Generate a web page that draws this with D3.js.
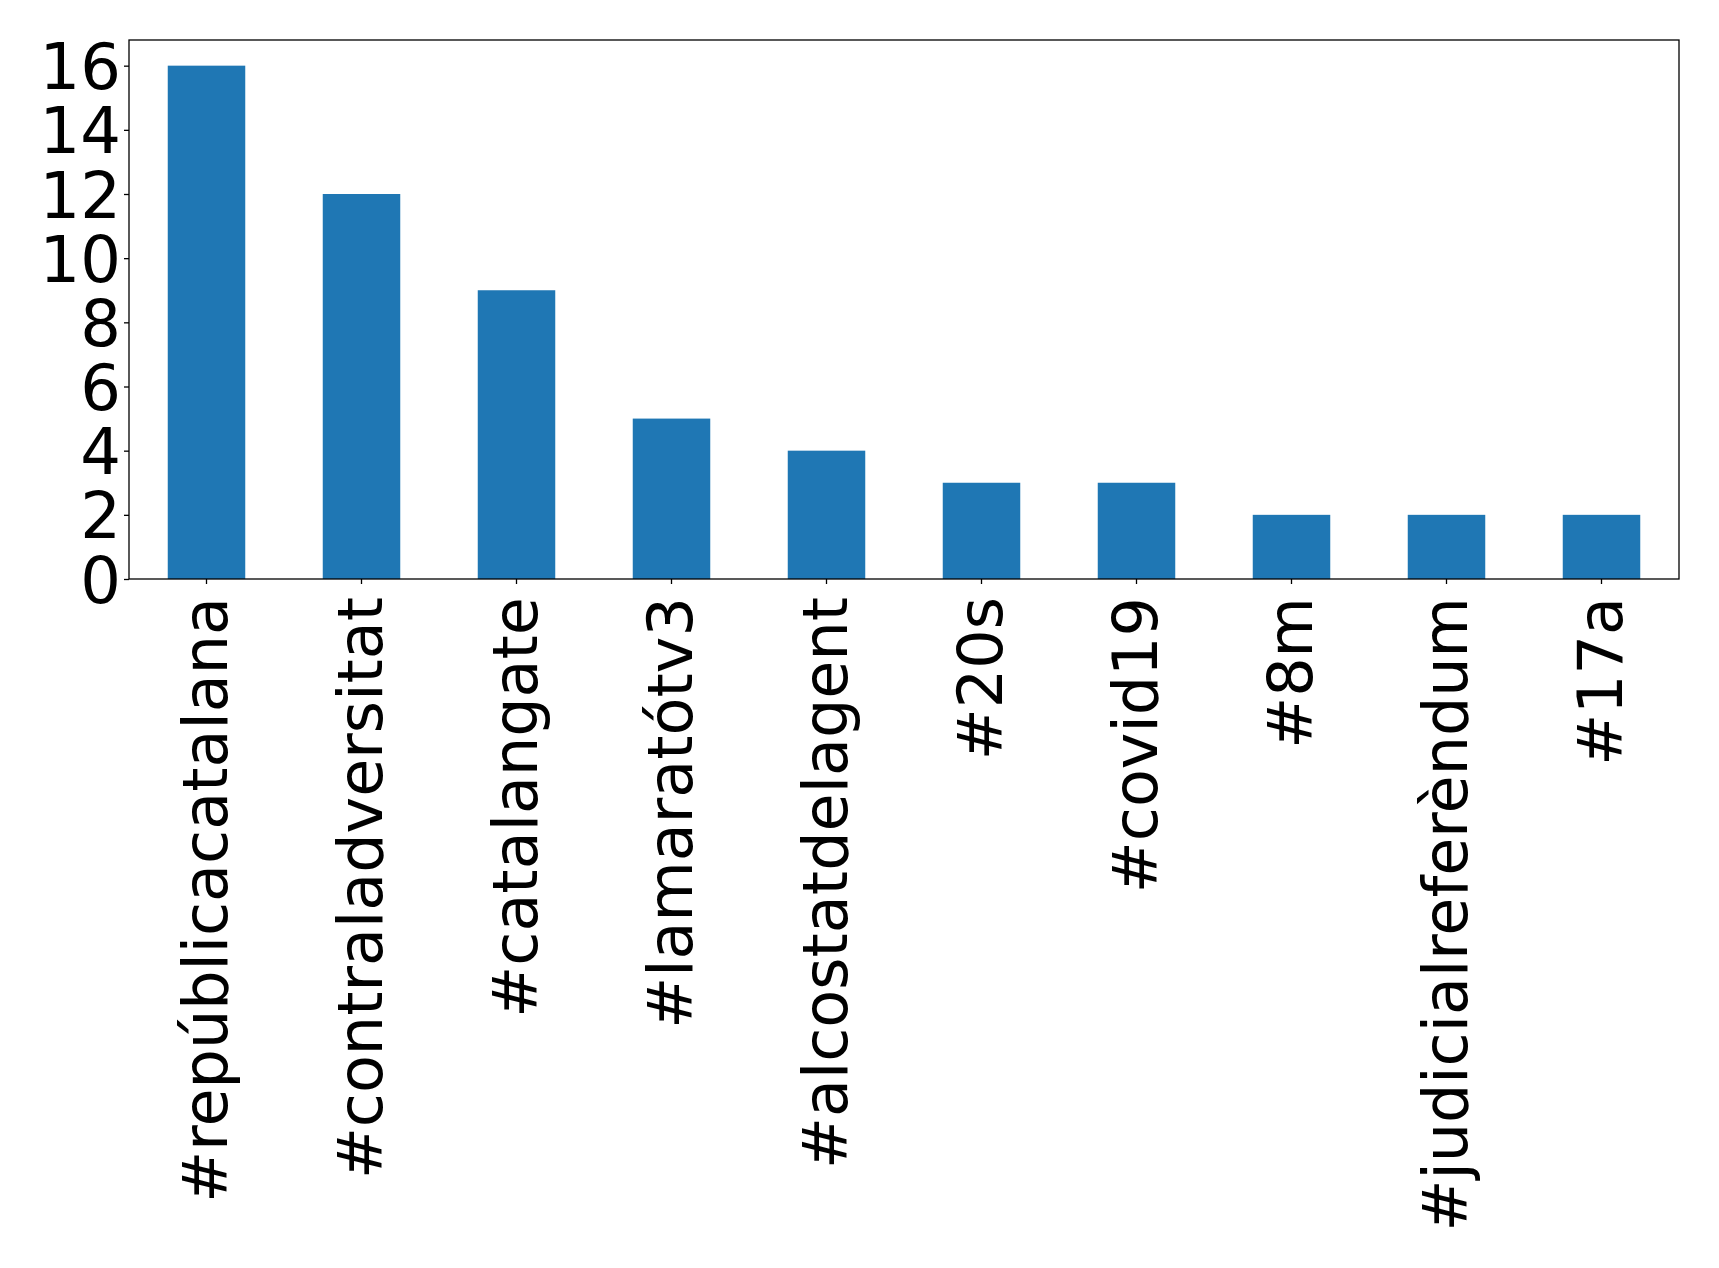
<!DOCTYPE html>
<html>
<head>
<meta charset="utf-8">
<script src="https://cdn.jsdelivr.net/npm/d3@7"></script>
<style>
  html, body { margin: 0; padding: 0; background: #fff; }
  svg { display: block; }
</style>
</head>
<body>
<script>
const categories = ["#repúblicacatalana", "#contraladversitat", "#catalangate", "#lamaratótv3", "#alcostatdelagent", "#20s", "#covid19", "#8m", "#judicialreferèndum", "#17a"];
const counts = [16, 12, 9, 5, 4, 3, 3, 2, 2, 2];
const yTicks = [0, 2, 4, 6, 8, 10, 12, 14, 16];

const W = 1719, H = 1268;
const mLeft = 129, mRight = 1679, mTop = 40, mBottom = 579;
const yFont = 64, xFont = 62;

const svg = d3.select("body").append("svg").attr("width", W).attr("height", H)
  .style("font-family", "'DejaVu Sans', sans-serif");

const x = d3.scaleBand().domain(categories).range([mLeft, mRight]).paddingInner(0.5).paddingOuter(0.25);
const y = d3.scaleLinear().domain([0, 16 * 1.05]).range([mBottom, mTop]);

svg.append("g").selectAll("rect").data(categories).join("rect")
  .attr("x", d => x(d))
  .attr("width", x.bandwidth())
  .attr("y", (d, i) => y(counts[i]))
  .attr("height", (d, i) => y(0) - y(counts[i]))
  .attr("fill", "#1f77b4");

// frame
svg.append("rect").attr("x", mLeft).attr("y", mTop).attr("width", mRight - mLeft).attr("height", mBottom - mTop)
  .attr("fill", "none").attr("stroke", "#000").attr("stroke-width", 1.3);

// y axis
const yAxis = d3.axisLeft(y).tickValues(yTicks).tickSize(5).tickPadding(3).tickFormat(d3.format("d"));
const gy = svg.append("g").attr("transform", `translate(${mLeft},0)`).call(yAxis);
gy.select(".domain").remove();
gy.selectAll(".tick line").attr("stroke", "#000").attr("stroke-width", 1.3);
gy.selectAll(".tick text").attr("fill", "#000").style("font-size", yFont + "px")
  .style("font-family", "'DejaVu Sans', sans-serif").attr("dy", "0.36em");

// x axis
const xAxis = d3.axisBottom(x).tickSize(5).tickPadding(0);
const gx = svg.append("g").attr("transform", `translate(0,${mBottom})`).call(xAxis);
gx.select(".domain").remove();
gx.selectAll(".tick line").attr("stroke", "#000").attr("stroke-width", 1.3);
gx.selectAll(".tick text")
  .attr("fill", "#000")
  .style("font-size", xFont + "px")
  .style("font-family", "'DejaVu Sans', sans-serif")
  .attr("text-anchor", "end")
  .attr("transform", "translate(0,18) rotate(-90)")
  .attr("x", 0).attr("y", 0)
  .attr("dy", "0.33em");
</script>
</body>
</html>
